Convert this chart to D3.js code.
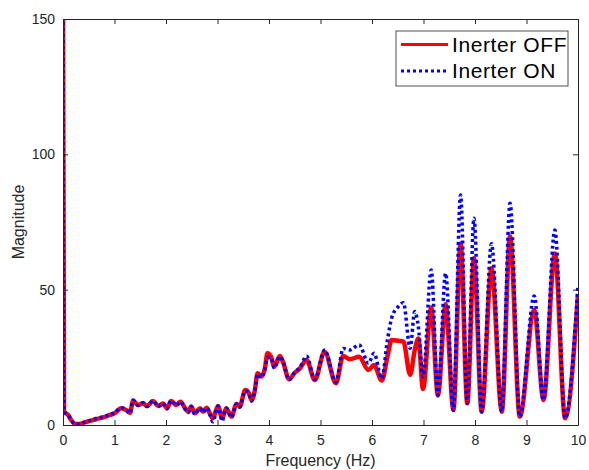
<!DOCTYPE html>
<html>
<head>
<meta charset="utf-8">
<script src="https://cdn.jsdelivr.net/npm/d3@7"></script>
<style>
  body { margin: 0; background: #fff; }
  text { font-family: Arial, "Liberation Sans", sans-serif; fill: #262626; }
</style>
</head>
<body>
<script>
// values
var freq = [0, 0.02, 0.1, 0.16, 0.23, 0.32, 0.42, 0.52, 0.65, 0.78, 0.91, 1.0, 1.13, 1.23, 1.3, 1.36, 1.46, 1.55, 1.63, 1.75, 1.85, 1.94, 2.02, 2.1, 2.2, 2.28, 2.38, 2.43, 2.49, 2.56, 2.66, 2.72, 2.79, 2.85, 2.91, 3.01, 3.09, 3.17, 3.27, 3.37, 3.43, 3.54, 3.61, 3.66, 3.72, 3.78, 3.85, 3.92, 3.97, 4.04, 4.1, 4.21, 4.27, 4.39, 4.5, 4.6, 4.73, 4.89, 5.08, 5.3, 5.44, 5.57, 5.75, 5.93, 6.04, 6.19, 6.3, 6.38, 6.51, 6.61, 6.74, 6.83, 6.9, 6.99, 7.15, 7.28, 7.43, 7.58, 7.72, 7.85, 7.98, 8.13, 8.32, 8.52, 8.68, 8.87, 9.15, 9.33, 9.55, 9.75, 10.0];

var inerterOff = [160, 4.9, 3.7, 1.8, 0.5, 0.4, 1.0, 1.5, 2.2, 2.8, 3.7, 4.3, 6.2, 5.5, 4.5, 8.9, 7.4, 8.0, 7.0, 8.9, 7.0, 7.9, 6.2, 8.9, 7.4, 8.6, 5.9, 4.9, 6.8, 4.3, 6.2, 4.9, 6.4, 4.3, 2.5, 7.0, 2.5, 6.2, 3.1, 7.8, 6.8, 12.9, 11.7, 9.2, 12.3, 19.1, 17.9, 20.9, 26.5, 25.2, 21.5, 25.5, 23.4, 16.9, 19.3, 20.9, 24.0, 16.6, 27.1, 15.4, 25.5, 24.3, 25.2, 20.3, 22.2, 16.4, 25.2, 31.4, 31.1, 30.8, 18.5, 27.7, 32.0, 13.3, 43.4, 10.9, 44.6, 5.5, 67.1, 8.0, 61.6, 4.9, 57.9, 4.9, 69.6, 3.1, 42.5, 9.2, 63.4, 2.5, 48.4];

var inerterOn = [160, 4.9, 3.7, 1.8, 0.5, 0.4, 1.0, 1.6, 2.4, 3.0, 3.9, 4.5, 6.4, 5.5, 4.3, 9.2, 7.2, 8.2, 6.8, 9.0, 6.8, 8.0, 6.0, 9.0, 7.2, 8.6, 5.6, 4.6, 6.8, 4.0, 6.2, 4.6, 6.4, 4.0, 1.2, 7.0, 1.5, 6.2, 2.8, 7.8, 6.6, 12.6, 11.5, 8.8, 12.3, 18.8, 17.6, 20.5, 24.7, 25.0, 21.0, 25.3, 23.6, 16.7, 19.5, 21.2, 25.5, 16.8, 27.7, 15.8, 28.3, 27.7, 29.6, 22.8, 26.5, 17.2, 31.4, 39.4, 43.7, 45.2, 28.3, 41.9, 36.3, 17.8, 57.3, 11.0, 56.0, 5.5, 85.0, 8.0, 76.4, 4.9, 67.0, 4.9, 81.9, 3.1, 47.7, 9.2, 72.0, 2.5, 51.7];

var xTicks = [0, 1, 2, 3, 4, 5, 6, 7, 8, 9, 10];
var yTicks = [0, 50, 100, 150];
var seriesNames = ["Inerter OFF", "Inerter ON"];

var width = 589,
    height = 470,
    margin = {top: 19, right: 11, bottom: 45, left: 63};

var innerW = width - margin.left - margin.right,
    innerH = height - margin.top - margin.bottom;

var svg = d3.select("body")
    .append("svg")
    .attr("width", width)
    .attr("height", height);

var x = d3.scaleLinear().domain([0, 10]).range([0, innerW]);
var y = d3.scaleLinear().domain([0, 150]).range([innerH, 0]);

var g = svg.append("g")
    .attr("transform", "translate(" + margin.left + "," + margin.top + ")");

g.append("clipPath").attr("id", "clip")
  .append("rect").attr("width", innerW).attr("height", innerH);

var offData = freq.map(function(f, i){ return [f, inerterOff[i]]; });
var onData = freq.map(function(f, i){ return [f, inerterOn[i]]; });

var line = d3.line()
    .x(function(d){ return x(d[0]); })
    .y(function(d){ return y(d[1]); })
    .curve(d3.curveMonotoneX);

var plot = g.append("g").attr("clip-path", "url(#clip)");

plot.append("path")
    .datum(offData)
    .attr("d", line)
    .attr("fill", "none")
    .attr("stroke", "#ff0000")
    .attr("stroke-width", 4.5)
    .attr("stroke-linejoin", "round");

plot.append("path")
    .datum(onData)
    .attr("d", line)
    .attr("fill", "none")
    .attr("stroke", "#0000ff")
    .attr("stroke-width", 3.5)
    .attr("stroke-dasharray", "3,3");

// axes, MATLAB style box with ticks inside
var axisColor = "#262626";
function styleAxis(sel){
  sel.select(".domain").attr("stroke", axisColor);
  sel.selectAll(".tick line").attr("stroke", axisColor);
  sel.selectAll(".tick text").style("font-size", "14px").attr("fill", axisColor);
}

g.append("g")
    .attr("transform", "translate(0," + innerH + ")")
    .call(d3.axisBottom(x).tickValues(xTicks).tickSize(-5).tickSizeOuter(0).tickPadding(10))
    .call(styleAxis);

g.append("g")
    .call(d3.axisLeft(y).tickValues(yTicks).tickSize(-5).tickSizeOuter(0).tickPadding(8))
    .call(styleAxis);

g.append("g")
    .call(d3.axisTop(x).tickValues(xTicks).tickSize(-5).tickSizeOuter(0).tickFormat(""))
    .call(styleAxis);

g.append("g")
    .attr("transform", "translate(" + innerW + ",0)")
    .call(d3.axisRight(y).tickValues(yTicks).tickSize(-5).tickSizeOuter(0).tickFormat(""))
    .call(styleAxis);

// axis labels
svg.append("text")
    .attr("x", margin.left + innerW / 2)
    .attr("y", 466)
    .attr("text-anchor", "middle")
    .style("font-size", "16px")
    .text("Frequency (Hz)");

svg.append("text")
    .attr("transform", "translate(24," + (margin.top + innerH / 2) + ") rotate(-90)")
    .attr("text-anchor", "middle")
    .style("font-size", "16px")
    .text("Magnitude");

// legend
var legend = svg.append("g").attr("transform", "translate(396,31)");
legend.append("rect")
    .attr("width", 172)
    .attr("height", 55)
    .attr("fill", "#fff")
    .attr("stroke", axisColor)
    .attr("stroke-width", 0.8);

var legendStyles = [
  {color: "#ff0000", w: 3, dash: null},
  {color: "#0000ff", w: 3, dash: "3,3"}
];

seriesNames.forEach(function(name, i){
  var ly = 13.5 + i * 26.5;
  legend.append("line")
      .attr("x1", 5).attr("x2", 52)
      .attr("y1", ly).attr("y2", ly)
      .attr("stroke", legendStyles[i].color)
      .attr("stroke-width", legendStyles[i].w)
      .attr("stroke-dasharray", legendStyles[i].dash);
  legend.append("text")
      .attr("x", 56)
      .attr("y", ly + 7)
      .style("font-size", "21px")
      .style("letter-spacing", "0.6px")
      .style("fill", "#000")
      .text(name);
});
</script>
</body>
</html>
